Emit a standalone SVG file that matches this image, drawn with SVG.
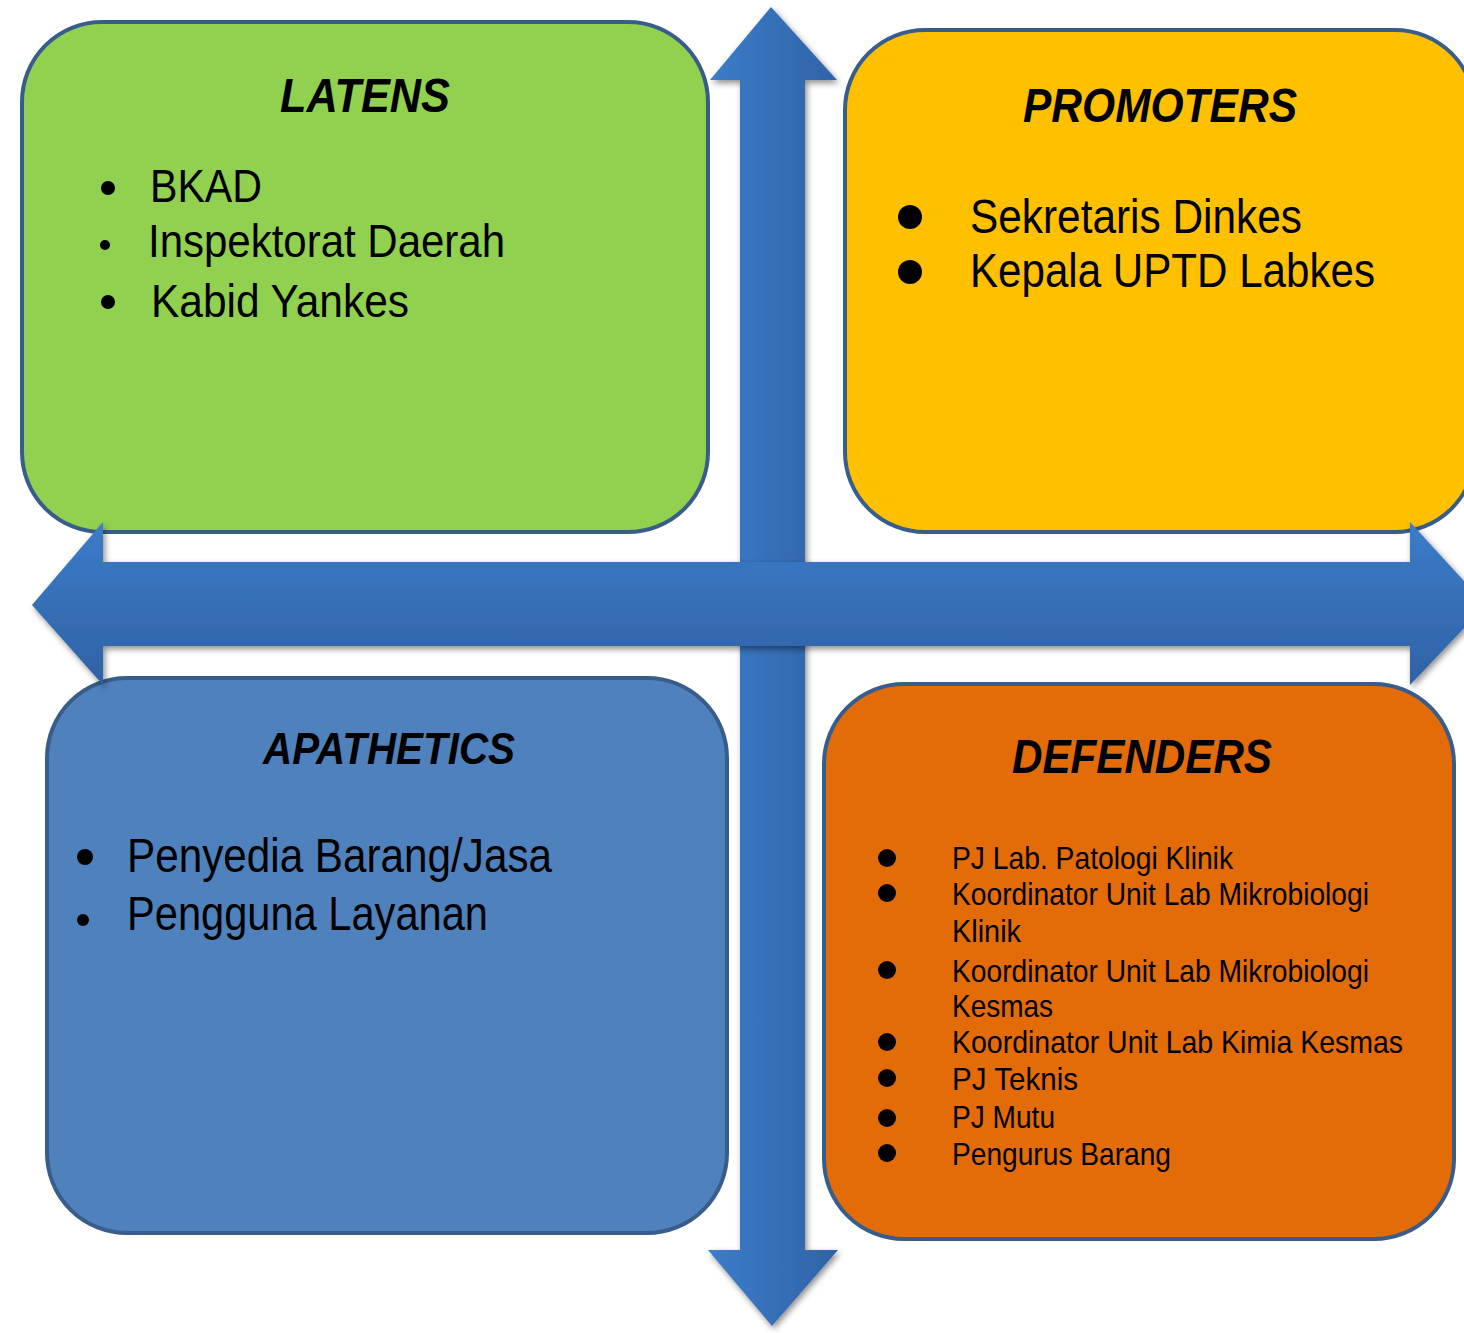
<svg xmlns="http://www.w3.org/2000/svg" width="1464" height="1333" viewBox="0 0 1464 1333">
  <style>
    .box { stroke: #385D8A; stroke-width: 4; }
    .title { font-family: "Liberation Sans", Arial, sans-serif; font-weight: bold; font-style: italic; fill: #000; }
    .item { font-family: "Liberation Sans", Arial, sans-serif; fill: #000; }
    .dot { fill: #000; }
  </style>
  <defs>
    <linearGradient id="gradV" x1="0" y1="0" x2="1" y2="0">
      <stop offset="0" stop-color="#3C7CC9"/>
      <stop offset="1" stop-color="#2F63A6"/>
    </linearGradient>
    <linearGradient id="gradH" x1="0" y1="0" x2="0" y2="1">
      <stop offset="0" stop-color="#3C7CC9"/>
      <stop offset="1" stop-color="#2F62A4"/>
    </linearGradient>
    <filter id="shadow" x="-10%" y="-10%" width="120%" height="120%">
      <feDropShadow dx="2" dy="3" stdDeviation="3" flood-color="#000" flood-opacity="0.45"/>
    </filter>
  </defs>

  <rect width="1464" height="1333" fill="#FFFFFF"/>

  <!-- LATENS -->
  <g id="latens">
    <rect class="box" x="22" y="22" width="686" height="510" rx="80" ry="80" fill="#92D050"/>
    <text class="title" x="280" y="112" font-size="48" textLength="170" lengthAdjust="spacingAndGlyphs">LATENS</text>
    <circle class="dot" cx="108" cy="188" r="7"/>
    <circle class="dot" cx="105" cy="245" r="5"/>
    <circle class="dot" cx="108" cy="302" r="7"/>
    <text class="item" x="150" y="202" font-size="47" textLength="112" lengthAdjust="spacingAndGlyphs">BKAD</text>
    <text class="item" x="148" y="257" font-size="47" textLength="357" lengthAdjust="spacingAndGlyphs">Inspektorat Daerah</text>
    <text class="item" x="151" y="317" font-size="47" textLength="258" lengthAdjust="spacingAndGlyphs">Kabid Yankes</text>
  </g>

  <!-- PROMOTERS -->
  <g id="promoters">
    <rect class="box" x="845" y="30" width="630" height="502" rx="80" ry="80" fill="#FFC000"/>
    <text class="title" x="1023" y="122" font-size="48" textLength="274" lengthAdjust="spacingAndGlyphs">PROMOTERS</text>
    <circle class="dot" cx="910" cy="217" r="12"/>
    <circle class="dot" cx="910" cy="272" r="12"/>
    <text class="item" x="970" y="233" font-size="48" textLength="332" lengthAdjust="spacingAndGlyphs">Sekretaris Dinkes</text>
    <text class="item" x="970" y="287" font-size="48" textLength="405" lengthAdjust="spacingAndGlyphs">Kepala UPTD Labkes</text>
  </g>

  <!-- APATHETICS -->
  <g id="apathetics">
    <rect class="box" x="47" y="678" width="680" height="555" rx="80" ry="80" fill="#4F81BD"/>
    <text class="title" x="263" y="764" font-size="44" textLength="252" lengthAdjust="spacingAndGlyphs">APATHETICS</text>
    <circle class="dot" cx="85" cy="857" r="8"/>
    <circle class="dot" cx="83" cy="920" r="6"/>
    <text class="item" x="127" y="872" font-size="48" textLength="425" lengthAdjust="spacingAndGlyphs">Penyedia Barang/Jasa</text>
    <text class="item" x="127" y="930" font-size="48" textLength="361" lengthAdjust="spacingAndGlyphs">Pengguna Layanan</text>
  </g>

  <!-- DEFENDERS -->
  <g id="defenders">
    <rect class="box" x="824" y="684" width="630" height="555" rx="80" ry="80" fill="#E36C09"/>
    <text class="title" x="1012" y="773" font-size="49" textLength="260" lengthAdjust="spacingAndGlyphs">DEFENDERS</text>
    <circle class="dot" cx="887" cy="858" r="9"/>
    <circle class="dot" cx="887" cy="893" r="9"/>
    <circle class="dot" cx="887" cy="970" r="9"/>
    <circle class="dot" cx="887" cy="1042" r="9"/>
    <circle class="dot" cx="887" cy="1078" r="9"/>
    <circle class="dot" cx="887" cy="1118" r="9"/>
    <circle class="dot" cx="887" cy="1153" r="9"/>
    <text class="item" x="952" y="869" font-size="32" textLength="281" lengthAdjust="spacingAndGlyphs">PJ Lab. Patologi Klinik</text>
    <text class="item" x="952" y="905" font-size="32" textLength="417" lengthAdjust="spacingAndGlyphs">Koordinator Unit Lab Mikrobiologi</text>
    <text class="item" x="952" y="942" font-size="32" textLength="69" lengthAdjust="spacingAndGlyphs">Klinik</text>
    <text class="item" x="952" y="982" font-size="32" textLength="417" lengthAdjust="spacingAndGlyphs">Koordinator Unit Lab Mikrobiologi</text>
    <text class="item" x="952" y="1017" font-size="32" textLength="101" lengthAdjust="spacingAndGlyphs">Kesmas</text>
    <text class="item" x="952" y="1053" font-size="32" textLength="451" lengthAdjust="spacingAndGlyphs">Koordinator Unit Lab Kimia Kesmas</text>
    <text class="item" x="952" y="1090" font-size="32" textLength="126" lengthAdjust="spacingAndGlyphs">PJ Teknis</text>
    <text class="item" x="952" y="1128" font-size="32" textLength="103" lengthAdjust="spacingAndGlyphs">PJ Mutu</text>
    <text class="item" x="952" y="1165" font-size="32" textLength="219" lengthAdjust="spacingAndGlyphs">Pengurus Barang</text>
  </g>

  <!-- Connectors: the two double-headed axis arrows -->
  <g id="connectors">
    <path id="axis-vertical" filter="url(#shadow)" fill="url(#gradV)"
          d="M771 7 L837 80 L805 80 L805 1250 L838 1250 L772 1326 L708 1250 L740 1250 L740 80 L710 80 Z"/>
    <path id="axis-horizontal" filter="url(#shadow)" fill="url(#gradH)"
          d="M32 605 L103 522 L103 562 L1410 562 L1410 522 L1486 605 L1410 685 L1410 646 L103 646 L103 685 Z"/>
  </g>
</svg>
